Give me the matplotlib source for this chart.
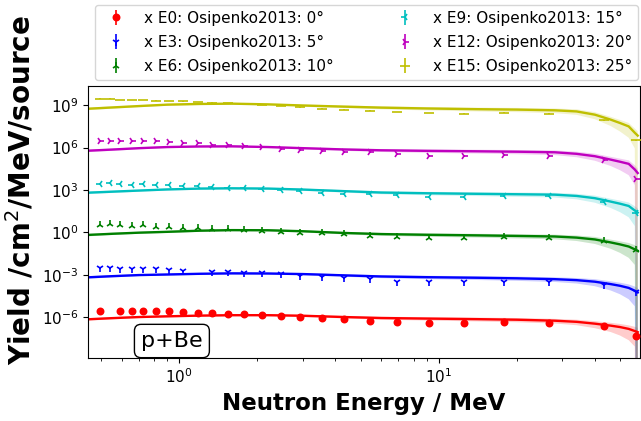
import numpy as np
import matplotlib
matplotlib.use("Agg")
import matplotlib.pyplot as plt
from matplotlib.ticker import NullLocator, FixedLocator

# Measured neutron energies (MeV), Osipenko2013 p+Be
energy_data = [0.495, 0.541, 0.592, 0.657, 0.728, 0.813, 0.915, 1.03, 1.18, 1.34,
               1.54, 1.78, 2.08, 2.46, 2.93, 3.55, 4.31, 5.42, 6.92, 9.19,
               12.5, 17.8, 26.7, 43.4, 57.6]

# log10 of measured yield (/cm^2/MeV/source) per angle
data_0deg = [-5.54, np.nan, -5.57, -5.57, -5.54, -5.59, -5.59, -5.65, -5.70, -5.70,
             -5.77, -5.80, -5.85, -5.92, -6.01, -6.08, -6.15, -6.25, -6.36, -6.39,
             -6.41, -6.32, -6.41, -6.62, -7.33]
data_5deg = [-5.54, -5.54, -5.59, -5.61, -5.57, -5.61, -5.66, -5.71, np.nan, -5.78,
             -5.83, -5.85, -5.90, -5.97, -6.06, -6.13, -6.21, -6.32, -6.49, -6.53,
             -6.53, -6.49, -6.53, -6.72, -7.20]
data_10deg = [-5.48, -5.43, -5.48, -5.53, -5.48, -5.60, -5.60, -5.67, -5.71, -5.76,
              -5.78, -5.83, -5.90, -5.97, -6.02, -6.07, -6.14, -6.23, -6.30, -6.42,
              -6.42, -6.30, -6.42, -6.61, -7.25]
data_15deg = [-5.57, -5.53, -5.60, -5.62, -5.57, -5.62, -5.67, -5.69, -5.72, -5.77,
              -5.84, -5.88, -5.93, -6.00, -6.09, -6.19, -6.28, -6.28, -6.38, -6.47,
              -6.52, -6.40, -6.42, -6.83, -7.65]
data_20deg = [-5.51, -5.51, -5.51, -5.55, -5.55, -5.55, -5.60, -5.65, -5.70, -5.79,
              -5.84, -5.91, -5.98, -6.08, -6.15, -6.22, -6.31, -6.33, -6.45, -6.57,
              -6.57, -6.50, -6.57, -6.85, -8.22]
data_25deg = [-5.54, -5.54, -5.63, -5.63, -5.63, -5.68, -5.70, -5.72, -5.77, -5.82,
              -5.87, -5.89, -5.96, -6.05, -6.15, -6.25, -6.32, -6.39, -6.48, -6.55,
              -6.60, -6.53, -6.60, -7.07, -8.48]

# Simulated spectra (log10 yield) on the model energy grid
energy_model = [0.445, 0.55, 0.7, 0.9, 1.2, 1.6, 2.2, 3.0, 4.3, 6.0, 9.0, 14, 20, 28,
                34, 40, 46, 50, 54, 57, 58.5]
model_0deg = [-6.15, -6.07, -5.99, -5.94, -5.89, -5.86, -5.86, -5.90, -5.99, -6.06, -6.10,
              -6.14, -6.18, -6.25, -6.33, -6.46, -6.60, -6.70, -6.83, -6.98, -7.06]
model_5deg = [-6.18, -6.10, -6.02, -5.98, -5.93, -5.90, -5.91, -5.95, -6.04, -6.12, -6.17,
              -6.21, -6.25, -6.31, -6.38, -6.49, -6.66, -6.78, -6.93, -7.13, -7.25]
model_10deg = [-6.18, -6.10, -6.02, -5.96, -5.88, -5.84, -5.85, -5.92, -6.04, -6.12, -6.17,
               -6.21, -6.25, -6.29, -6.37, -6.50, -6.71, -6.85, -7.00, -7.20, -7.30]
model_15deg = [-6.19, -6.12, -6.04, -5.96, -5.90, -5.88, -5.90, -5.97, -6.08, -6.18, -6.23,
               -6.27, -6.30, -6.33, -6.42, -6.58, -6.82, -6.97, -7.13, -7.45, -7.60]
model_20deg = [-6.22, -6.14, -6.04, -5.96, -5.92, -5.91, -5.96, -6.04, -6.13, -6.19, -6.23,
               -6.26, -6.29, -6.33, -6.44, -6.61, -6.85, -7.00, -7.15, -7.55, -7.80]
model_25deg = [-6.25, -6.16, -6.06, -5.96, -5.91, -5.89, -5.94, -6.02, -6.10, -6.17, -6.23,
               -6.28, -6.31, -6.36, -6.44, -6.67, -7.02, -7.26, -7.50, -7.95, -8.15]

# Uncertainty band of the simulation (decades below / above)
band_lo = [0.10, 0.09, 0.08, 0.08, 0.08, 0.08, 0.08, 0.09, 0.10, 0.12, 0.14,
           0.16, 0.18, 0.20, 0.24, 0.32, 0.45, 0.60, 0.80, 1.10, 30.0]
band_hi = [0.08, 0.07, 0.06, 0.06, 0.06, 0.06, 0.06, 0.07, 0.08, 0.09, 0.10,
           0.11, 0.12, 0.13, 0.15, 0.18, 0.20, 0.22, 0.25, 0.30, 0.30]

angles = [0, 5, 10, 15, 20, 25]
exponents = [0, 3, 6, 9, 12, 15]
data_sets = [data_0deg, data_5deg, data_10deg, data_15deg, data_20deg, data_25deg]
model_sets = [model_0deg, model_5deg, model_10deg, model_15deg, model_20deg, model_25deg]

colors = ["r", "b", "g", "c", "m", "y"]
markers = ["o", "1", "2", "3", "4", "_"]
msizes = [4.5, 5.5, 5.5, 5.5, 5.5, 7]

fig = plt.figure(figsize=(6.41, 4.21), dpi=100)
ax = fig.add_axes([88 / 641, 63 / 421, 552 / 641, 272 / 421])

E_m = np.array(energy_model)
E_d = np.array(energy_data)
lo = np.array(band_lo)
hi = np.array(band_hi)

for ang, ex, dat, mod, col, mk, ms in zip(angles, exponents, data_sets, model_sets,
                                          colors, markers, msizes):
    scale = 10.0 ** ex
    m = np.array(mod)
    ax.fill_between(E_m, 10 ** (m - lo) * scale, 10 ** (m + hi) * scale,
                    color=col, alpha=0.2, lw=0, zorder=1)
    ax.plot(E_m, 10 ** m * scale, color=col, lw=1.7, zorder=2)
    y = 10 ** (np.array(dat) + ex)
    ax.errorbar(E_d, y, yerr=0.06 * y, fmt=mk, color=col, ms=ms, mew=1.2,
                elinewidth=1.2, zorder=3,
                label=f"x E{ex}: Osipenko2013: {ang}°")

ax.set_xscale("log")
ax.set_yscale("log")
ax.set_xlim(0.445, 59.7)
ax.set_ylim(10 ** -8.89, 10 ** 10.36)
ax.yaxis.set_major_locator(FixedLocator([1e-6, 1e-3, 1e0, 1e3, 1e6, 1e9]))
ax.yaxis.set_minor_locator(NullLocator())
ax.tick_params(labelsize=11)

ax.set_xlabel("Neutron Energy / MeV", fontsize=16.5, fontweight="bold")
ax.set_ylabel("Yield /cm$^2$/MeV/source", fontsize=20, fontweight="bold")
ax.yaxis.set_label_coords(-0.093, 0.618)

ax.text(0.152, 0.0625, "p+Be", transform=ax.transAxes, ha="center", va="center",
        fontsize=16, zorder=5,
        bbox=dict(boxstyle="round,pad=0.3", facecolor="white", edgecolor="black"))

ax.legend(loc="lower left", bbox_to_anchor=(0.0127, 1.021, 0.9837, 0.1),
          mode="expand", ncol=2, borderaxespad=0, fontsize=11, labelspacing=0.6)

fig.savefig("out.png", dpi=100)
